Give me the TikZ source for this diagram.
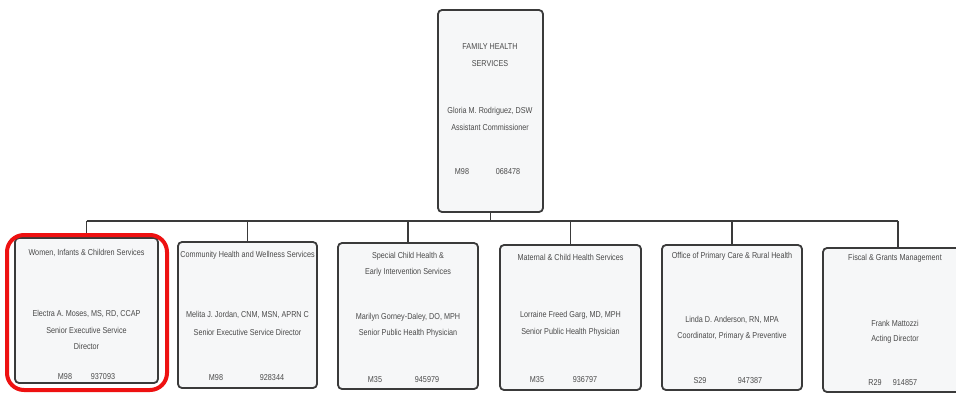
\documentclass[tikz,border=0pt]{standalone}
\usepackage{fontspec}
\newfontfamily\narrowfont{Liberation Sans}[FakeStretch=0.84]
\definecolor{boxline}{HTML}{3A3A3A}
\definecolor{boxfill}{HTML}{F6F7F8}
\definecolor{txt}{HTML}{4A4A4A}
\definecolor{hlred}{HTML}{EE1111}
\tikzset{
  orgbox/.style={draw=boxline, line width=1.8pt, rounded corners=4pt, fill=boxfill, inner sep=0pt, outer sep=0pt},
  link/.style={draw=boxline, line width=1.5pt},
  lbl/.style={text=txt, font=\narrowfont\fontsize{8.6}{10}\selectfont, align=center, inner sep=0pt},
  hlbox/.style={draw=hlred, line width=4pt, rounded corners=17pt, inner sep=0pt}
}
\begin{document}
\begin{tikzpicture}[x=1pt,y=-1pt]
\useasboundingbox (0,0) rectangle (956,408);
\fill[white] (0,0) rectangle (956,408);
\clip (0,0) rectangle (956,408);
% boxes
\node[orgbox, minimum width=105pt, minimum height=202pt] (top) at (490.5,111) {};
\node[orgbox, minimum width=143pt, minimum height=145pt] (b1) at (86.5,310.5) {};
\node[orgbox, minimum width=139pt, minimum height=146pt] (b2) at (247.5,315) {};
\node[orgbox, minimum width=140pt, minimum height=146pt] (b3) at (408,316) {};
\node[orgbox, minimum width=141pt, minimum height=145pt] (b4) at (570.5,317.5) {};
\node[orgbox, minimum width=140pt, minimum height=145pt] (b5) at (732,317.5) {};
\node[orgbox, minimum width=150pt, minimum height=144pt] (b6) at (898,320) {};
% connectors
\coordinate (bus) at (0,221);
\draw[link] (top.south) -- (top.south |- bus);
\draw[link] (b1.north |- bus) -- (b6.north |- bus);
\foreach \b in {b1,b2,b3,b4,b5,b6} {
  \draw[link] (\b.north |- bus) -- (\b.north);
}
% top box text
\node[lbl] (t1) at (490,47) {FAMILY HEALTH};
\node[lbl] (t2) at (490,64) {SERVICES};
\node[lbl] (t3) at (490,111) {Gloria M. Rodriguez, DSW};
\node[lbl] (t4) at (490,127) {Assistant Commissioner};
\node[lbl] (t5) at (462,172) {M98};
\node[lbl] (t6) at (508,172) {068478};
% box 1
\node[lbl] (a1) at (86.5,253) {Women, Infants \& Children Services};
\node[lbl] (a2) at (86.5,314) {Electra A. Moses, MS, RD, CCAP};
\node[lbl] (a3) at (86.5,330) {Senior Executive Service};
\node[lbl] (a4) at (86.5,346) {Director};
\node[lbl] (a5) at (65,377) {M98};
\node[lbl] (a6) at (103,377) {937093};
% box 2
\node[lbl] (c1) at (247.5,255) {Community Health and Wellness Services};
\node[lbl] (c2) at (247.5,315) {Melita J. Jordan, CNM, MSN, APRN C};
\node[lbl] (c3) at (247.5,332) {Senior Executive Service Director};
\node[lbl] (c4) at (216,378) {M98};
\node[lbl] (c5) at (272,378) {928344};
% box 3
\node[lbl] (d1) at (408,256) {Special Child Health \&};
\node[lbl] (d2) at (408,272) {Early Intervention Services};
\node[lbl] (d3) at (408,317) {Marilyn Gorney-Daley, DO, MPH};
\node[lbl] (d4) at (408,333) {Senior Public Health Physician};
\node[lbl] (d5) at (375,380) {M35};
\node[lbl] (d6) at (427,380) {945979};
% box 4
\node[lbl] (e1) at (570.5,257) {Maternal \& Child Health Services};
\node[lbl] (e2) at (570.5,315) {Lorraine Freed Garg, MD, MPH};
\node[lbl] (e3) at (570.5,332) {Senior Public Health Physician};
\node[lbl] (e4) at (537,380) {M35};
\node[lbl] (e5) at (585,380) {936797};
% box 5
\node[lbl] (f1) at (732,256) {Office of Primary Care \& Rural Health};
\node[lbl] (f2) at (732,320) {Linda D. Anderson, RN, MPA};
\node[lbl] (f3) at (732,336) {Coordinator, Primary \& Preventive};
\node[lbl] (f4) at (700,381) {S29};
\node[lbl] (f5) at (750,381) {947387};
% box 6
\node[lbl] (g1) at (895,258) {Fiscal \& Grants Management};
\node[lbl] (g2) at (895,323) {Frank Mattozzi};
\node[lbl] (g3) at (895,339) {Acting Director};
\node[lbl] (g4) at (875,383) {R29};
\node[lbl] (g5) at (905,383) {914857};
% highlight
\node[hlbox, minimum width=160pt, minimum height=155pt] (hl) at (87,312.5) {};
\end{tikzpicture}
\end{document}
